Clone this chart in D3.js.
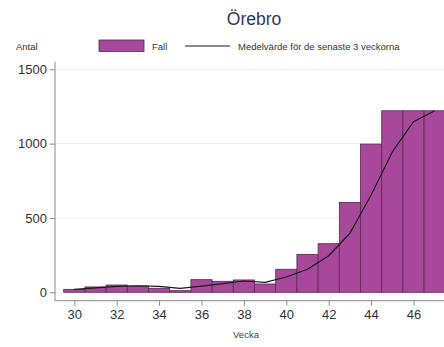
<!DOCTYPE html>
<html><head><meta charset="utf-8">
<script src="https://cdn.jsdelivr.net/npm/d3@7"></script>
<style>body{margin:0;background:#fff}svg{display:block;font-family:Arial,"Liberation Sans",sans-serif}</style>
</head><body><svg id="c" width="444" height="347"></svg>
<script>
const weeks = [30,31,32,33,34,35,36,37,38,39,40,41,42,43,44,45,46,47];
const cases = [20,36,49,42,27,11,85,74,83,56,155,255,327,605,997,1221,1221,1221];
const avg3  = [20,30,40,44,40,27,41,58,76,67,103,155,246,397,655,944,1147,1221];
const xTicks = [30,32,34,36,38,40,42,44,46];
const yTicks = [0,500,1000,1500];

const svg = d3.select("#c");
const x = d3.scaleLinear().domain([30,46]).range([74.3,413.5]);
const y = d3.scaleLinear().domain([0,1500]).range([292.3,69.3]);
const pLeft = 55, pRight = 444, pBottom = 300.7, pTop = 61.7;

// grid
svg.append("g").selectAll("line").data(yTicks.filter(d=>d>0)).join("line")
  .attr("x1",pLeft).attr("x2",pRight).attr("y1",d=>y(d)).attr("y2",d=>y(d))
  .attr("stroke","#e6f0f1").attr("stroke-width",1);

// bars
const bw = x(31)-x(30);
svg.append("g").selectAll("rect").data(weeks.map((w,i)=>({w,v:cases[i]}))).join("rect")
  .attr("x",d=>x(d.w)-bw/2).attr("width",bw)
  .attr("y",d=>y(d.v)).attr("height",d=>y(0)-y(d.v))
  .attr("fill","#a8489b").attr("stroke","#5a2756").attr("stroke-width",0.8);

// line
svg.append("path").datum(weeks.map((w,i)=>[w,avg3[i]]))
  .attr("d",d3.line().x(d=>x(d[0])).y(d=>y(d[1])))
  .attr("fill","none").attr("stroke","#1a1a1a").attr("stroke-width",1.2).attr("stroke-linejoin","round");

// axes
const ax = svg.append("g").attr("transform",`translate(0,${pBottom})`)
  .call(d3.axisBottom(x).tickValues(xTicks).tickSize(5).tickPadding(4).tickFormat(d3.format("d")));
ax.select(".domain").attr("d",`M${pLeft},0H${pRight}`);
const ay = svg.append("g").attr("transform",`translate(${pLeft},0)`)
  .call(d3.axisLeft(y).tickValues(yTicks).tickSize(5).tickPadding(3).tickFormat(d3.format("d")));
ay.select(".domain").attr("d",`M0,${pTop}V${pBottom}`);
svg.selectAll(".domain").attr("stroke","#8a8a8a");
svg.selectAll(".tick line").attr("stroke","#8a8a8a");
svg.selectAll(".tick text").attr("fill","#333").style("font-size","13px").style("font-family","Arial,'Liberation Sans',sans-serif");

// titles
svg.append("text").attr("x",254).attr("y",25).attr("text-anchor","middle")
  .attr("fill","#2d3a5a").style("font-size","17.5px").text("Örebro");
svg.append("text").attr("x",16).attr("y",50).attr("fill","#333").style("font-size","9.5px").text("Antal");
svg.append("text").attr("x",246).attr("y",338).attr("text-anchor","middle").attr("fill","#444").style("font-size","9.5px").text("Vecka");

// legend
svg.append("rect").attr("x",99).attr("y",40).attr("width",45).attr("height",11.5)
  .attr("fill","#a8489b").attr("stroke","#5a2756").attr("stroke-width",0.8);
svg.append("text").attr("x",152).attr("y",50).attr("fill","#333").style("font-size","9.5px").text("Fall");
svg.append("line").attr("x1",185).attr("x2",230).attr("y1",46).attr("y2",46).attr("stroke","#1a1a1a").attr("stroke-width",1.2);
svg.append("text").attr("x",238).attr("y",50).attr("fill","#333").style("font-size","9.5px").text("Medelvärde för de senaste 3 veckorna");
</script></body></html>
